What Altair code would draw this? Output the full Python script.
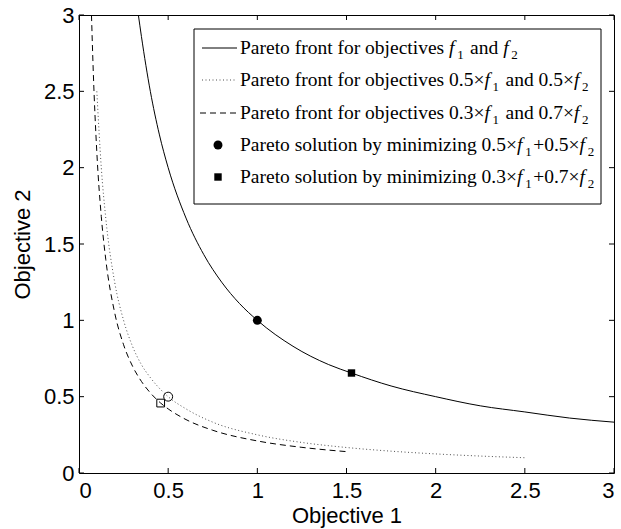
import altair as alt
import pandas as pd

# ---------------- data ----------------
front_x = [0.333, 0.35, 0.4, 0.45, 0.5, 0.6, 0.7, 0.8, 0.9, 1.0, 1.2, 1.4, 1.53, 1.75, 2.0, 2.25, 2.5, 2.75, 3.0]
front_y = [3.0, 2.86, 2.5, 2.22, 2.0, 1.67, 1.43, 1.25, 1.11, 1.0, 0.83, 0.71, 0.654, 0.57, 0.5, 0.44, 0.4, 0.36, 0.333]

dotted_x = [0.1, 0.125, 0.15, 0.2, 0.25, 0.3, 0.35, 0.4, 0.5, 0.6, 0.75, 1.0, 1.25, 1.5, 1.75, 2.0, 2.25, 2.5]
dotted_y = [2.5, 2.0, 1.67, 1.25, 1.0, 0.83, 0.71, 0.625, 0.5, 0.42, 0.333, 0.25, 0.2, 0.167, 0.143, 0.125, 0.111, 0.1]

dashed_x = [0.07, 0.08, 0.1, 0.125, 0.15, 0.2, 0.25, 0.3, 0.35, 0.4, 0.458, 0.5, 0.6, 0.75, 1.0, 1.25, 1.5]
dashed_y = [3.0, 2.63, 2.1, 1.68, 1.4, 1.05, 0.84, 0.7, 0.6, 0.525, 0.458, 0.42, 0.35, 0.28, 0.21, 0.168, 0.14]

sol_circle = (1.0, 1.0)
sol_square = (1.528, 0.655)
scaled_circle = (0.5, 0.5)
scaled_square = (0.458, 0.458)

x_ticks = [0, 0.5, 1, 1.5, 2, 2.5, 3]
y_ticks = [0, 0.5, 1, 1.5, 2, 2.5, 3]

legend_labels = [
    "Pareto front for objectives f_1 and f_2",
    "Pareto front for objectives 0.5×f_1 and 0.5×f_2",
    "Pareto front for objectives 0.3×f_1 and 0.7×f_2",
    "Pareto solution by minimizing 0.5×f_1+0.5×f_2",
    "Pareto solution by minimizing 0.3×f_1+0.7×f_2",
]

# ---------------- layout ----------------
W, H = 535, 458
AXFONT = "Liberation Sans"
SERIF = "Liberation Serif"
FS = 19.5
SUBFS = 13


def X(px):
    return px / W * 3


def Y(py):
    return 3 - py / H * 3


domx = alt.Scale(domain=[0, 3], nice=False, zero=False)
domy = alt.Scale(domain=[0, 3], nice=False, zero=False)

# ---------------- curves ----------------
def curve(xs, ys, **kw):
    df = pd.DataFrame({"x": xs, "y": ys})
    return alt.Chart(df).mark_line(clip=True, interpolate="monotone", color="black", **kw).encode(
        x=alt.X("x:Q", scale=domx,
                axis=alt.Axis(values=x_ticks, format="~g", title="Objective 1", ticks=False,
                              domain=False, grid=False, labelPadding=7, titlePadding=4)),
        y=alt.Y("y:Q", scale=domy,
                axis=alt.Axis(values=y_ticks, format="~g", title="Objective 2", ticks=False,
                              domain=False, grid=False, labelPadding=5, titlePadding=9)),
    )


solid = curve(front_x, front_y, strokeWidth=1)
dotted = curve(dotted_x, dotted_y, strokeWidth=1, strokeDash=[1, 2.5], opacity=0.7)
dashed = curve(dashed_x, dashed_y, strokeWidth=1, strokeDash=[6, 4])


def point(pt, shape, filled, size):
    df = pd.DataFrame({"x": [pt[0]], "y": [pt[1]]})
    return alt.Chart(df).mark_point(shape=shape, filled=filled, size=size, color="black",
                                    strokeWidth=1, opacity=1).encode(
        x=alt.X("x:Q", scale=domx), y=alt.Y("y:Q", scale=domy))


pts = [
    point(sol_circle, "circle", True, 80),
    point(sol_square, "square", True, 55),
    point(scaled_circle, "circle", False, 80),
    point(scaled_square, "square", False, 60),
]

# ---------------- inward ticks ----------------
xt = pd.DataFrame({"v": x_ticks})
yt = pd.DataFrame({"v": y_ticks})
TL = 5
ticks = [
    alt.Chart(xt).mark_rule(color="black", strokeWidth=1).encode(
        x=alt.X("v:Q", scale=domx), y=alt.value(H), y2=alt.value(H - TL)),
    alt.Chart(xt).mark_rule(color="black", strokeWidth=1).encode(
        x=alt.X("v:Q", scale=domx), y=alt.value(0), y2=alt.value(TL)),
    alt.Chart(yt).mark_rule(color="black", strokeWidth=1).encode(
        y=alt.Y("v:Q", scale=domy), x=alt.value(0), x2=alt.value(TL)),
    alt.Chart(yt).mark_rule(color="black", strokeWidth=1).encode(
        y=alt.Y("v:Q", scale=domy), x=alt.value(W), x2=alt.value(W - TL)),
]

# ---------------- legend (drawn by hand for italic f and subscripts) ----------------
one = pd.DataFrame({"a": [0]})
box = alt.Chart(one).mark_rect(fill="white", stroke="black", strokeWidth=1).encode(
    x=alt.value(115), x2=alt.value(522), y=alt.value(14), y2=alt.value(189))

row_base = [39, 71, 104, 136, 168]
row_mid = [b - 6 for b in row_base]
sym_x0, sym_x1, mark_x, text_x = 123, 158, 139, 161

leg_lines = [
    alt.Chart(one).mark_rule(color="black", strokeWidth=1).encode(
        x=alt.value(sym_x0), x2=alt.value(sym_x1), y=alt.value(row_mid[0])),
    alt.Chart(one).mark_rule(color="black", strokeWidth=1, strokeDash=[1, 2.5], opacity=0.7).encode(
        x=alt.value(sym_x0), x2=alt.value(sym_x1), y=alt.value(row_mid[1])),
    alt.Chart(one).mark_rule(color="black", strokeWidth=1, strokeDash=[6, 4]).encode(
        x=alt.value(sym_x0 - 2), x2=alt.value(sym_x1), y=alt.value(row_mid[2])),
    alt.Chart(one).mark_point(shape="circle", filled=True, size=80, color="black", opacity=1).encode(
        x=alt.value(mark_x), y=alt.value(row_mid[3])),
    alt.Chart(one).mark_point(shape="square", filled=True, size=55, color="black", opacity=1).encode(
        x=alt.value(mark_x), y=alt.value(row_mid[4])),
]

TW = {' ': 250, 'P': 556, 'a': 444, 'r': 333, 'e': 444, 't': 278, 'o': 500, 'f': 333, 'n': 500,
      'b': 500, 'j': 278, 'c': 444, 'i': 278, 'v': 500, 's': 389, 'l': 278, 'u': 500, 'y': 500,
      'm': 778, 'z': 444, 'g': 500, 'd': 500, '.': 250, '×': 564, '+': 564}


def tw(s, fs):
    return sum(TW.get(ch, 500) for ch in s) / 1000 * fs


segs = []
for i, lab in enumerate(legend_labels):
    xpos = text_x
    base = row_base[i]
    parts = lab.split("f_")
    for j, part in enumerate(parts):
        if j == 0:
            normal = part
        else:
            segs.append({"x": X(xpos), "y": Y(base), "t": "f", "k": "it"})
            xpos += 0.42 * FS
            segs.append({"x": X(xpos), "y": Y(base + 5), "t": part[0], "k": "sub"})
            xpos += 0.5 * SUBFS + 1.5
            normal = part[1:]
        # SVG drops leading spaces: advance past them instead
        stripped = normal.lstrip(" ")
        xpos += tw(normal[: len(normal) - len(stripped)], FS)
        if stripped:
            segs.append({"x": X(xpos), "y": Y(base), "t": stripped, "k": "n"})
            xpos += tw(stripped, FS)

segdf = pd.DataFrame(segs)


def seg_layer(kind, **kw):
    return alt.Chart(segdf).transform_filter(alt.datum.k == kind).mark_text(
        align="left", baseline="alphabetic", font=SERIF, color="black", **kw).encode(
        x=alt.X("x:Q", scale=domx), y=alt.Y("y:Q", scale=domy), text="t:N")


texts = [
    seg_layer("n", fontSize=FS),
    seg_layer("it", fontSize=FS, fontStyle="italic"),
    seg_layer("sub", fontSize=SUBFS),
]

chart = alt.layer(
    solid, dotted, dashed, *pts, *ticks, box, *leg_lines, *texts
).properties(
    width=W, height=H,
    padding={"left": 79, "top": 15, "right": 7, "bottom": 56},
    autosize=alt.AutoSizeParams(type="none"),
    background="white",
).configure_view(
    stroke="black", strokeWidth=1
).configure_axis(
    labelFont=AXFONT, labelFontSize=22, labelColor="black",
    titleFont=AXFONT, titleFontSize=22, titleFontWeight="normal", titleColor="black",
)

chart.save("out.html", embed_options={"renderer": "svg", "actions": False})
